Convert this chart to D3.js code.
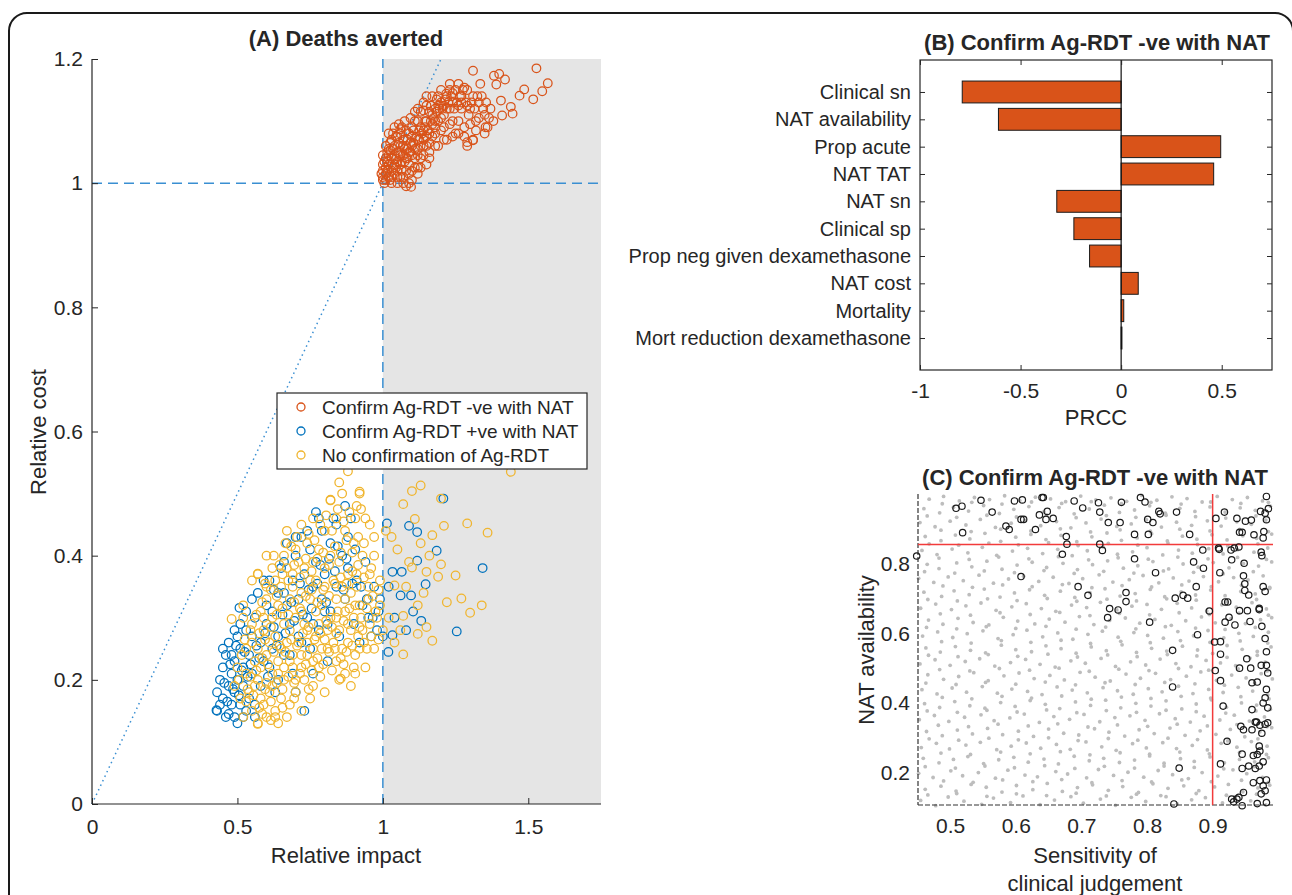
<!DOCTYPE html>
<html><head><meta charset="utf-8">
<script src="https://cdn.jsdelivr.net/npm/d3@7"></script>
<style>body{margin:0;background:#fff}text{font-family:"Liberation Sans",Arial,Helvetica,sans-serif;fill:#262626}</style>
</head><body>
<script>
// ---------- DATA ----------
// Panel A
const xDomA=[0,1.75], yDomA=[0,1.2];
const xTicksA=[0,0.5,1,1.5], yTicksA=[0,0.2,0.4,0.6,0.8,1,1.2];
const legendA=["Confirm Ag-RDT -ve with NAT","Confirm Ag-RDT +ve with NAT","No confirmation of Ag-RDT"];
const confirmNeg=[[1.01,1.005],[1.02,1.01],[1.00,1.02],[1.03,1.00],[1.04,1.015],[1.02,1.03],[1.05,1.02],[1.06,1.03],[1.03,1.04],[1.01,1.04],[1.07,1.01],[1.08,1.04],[1.05,1.05],[1.04,1.06],[1.06,1.06],[1.09,1.05],[1.10,1.06],[1.07,1.07],[1.02,1.055],[1.08,1.02],[1.11,1.04],[1.12,1.07],[1.09,1.08],[1.06,1.08],[1.13,1.09],[1.10,1.09],[1.14,1.07],[1.15,1.10],[1.12,1.10],[1.16,1.08],[1.17,1.11],[1.11,1.115],[1.18,1.12],[1.19,1.10],[1.20,1.13],[1.15,1.125],[1.21,1.11],[1.22,1.14],[1.23,1.12],[1.24,1.13],[1.25,1.15],[1.26,1.10],[1.27,1.12],[1.28,1.09],[1.25,1.08],[1.22,1.07],[1.19,1.06],[1.16,1.05],[1.13,1.04],[1.10,1.02],[1.08,0.995],[1.12,1.025],[1.15,1.06],[1.18,1.08],[1.21,1.09],[1.24,1.10],[1.27,1.14],[1.30,1.12],[1.32,1.10],[1.29,1.06],[1.31,1.07],[1.33,1.13],[1.35,1.11],[1.36,1.09],[1.34,1.14],[1.26,1.16],[1.23,1.16],[1.20,1.15],[1.17,1.14],[1.14,1.13],[1.11,1.10],[1.08,1.085],[1.05,1.075],[1.03,1.07],[1.04,1.09],[1.00,1.01],[1.01,1.025],[1.03,1.02],[1.05,1.035],[1.07,1.045],[1.09,1.03],[1.11,1.055],[1.13,1.06],[1.14,1.085],[1.17,1.095],[1.19,1.125],[1.16,1.115],[1.13,1.115],[1.10,1.075],[1.07,1.06],[1.06,1.045],[1.04,1.03],[1.06,1.01],[1.09,1.015],[1.12,1.045],[1.15,1.075],[1.18,1.10],[1.21,1.125],[1.24,1.145],[1.27,1.13],[1.29,1.15],[1.31,1.14],[1.37,1.12],[1.38,1.10],[1.35,1.08],[1.097,0.994],[1.00,1.03],[1.01,1.015],[1.02,1.045],[1.03,1.01],[1.04,1.045],[1.05,1.01],[1.00,1.005],[1.015,1.035],[1.035,1.055],[1.045,1.025],[1.055,1.065],[1.065,1.02],[1.075,1.035],[1.085,1.055],[1.095,1.065],[1.025,1.065],[1.045,1.075],[1.065,1.09],[1.085,1.07],[1.105,1.085],[1.125,1.085],[1.145,1.10],[1.165,1.125],[1.185,1.135],[1.12,1.055],[1.14,1.045],[1.16,1.065],[1.18,1.09],[1.20,1.105],[1.22,1.12],[1.10,1.045],[1.08,1.06],
[1.005,1.0],[1.015,1.02],[1.025,1.005],[1.035,1.025],[1.045,1.04],[1.055,1.05],[1.065,1.035],[1.075,1.055],[1.085,1.04],[1.095,1.05],[1.105,1.065],[1.115,1.075],[1.125,1.07],[1.135,1.08],[1.145,1.09],[1.155,1.085],[1.165,1.1],[1.175,1.105],[1.185,1.115],[1.195,1.12],[1.205,1.12],[1.215,1.135],[1.225,1.13],[1.235,1.14],[1.245,1.12],[1.255,1.13],[1.265,1.14],[1.275,1.15],[1.285,1.13],[1.295,1.11],[1.305,1.13],[1.315,1.12],[1.325,1.14],[1.345,1.12],[1.355,1.13],[1.365,1.105],[1.32,1.085],[1.30,1.095],[1.28,1.075],[1.26,1.08],[1.24,1.075],[1.23,1.095],[1.21,1.07],[1.20,1.085],[1.18,1.06],[1.17,1.075],[1.16,1.04],[1.15,1.03],[1.14,1.06],[1.13,1.025],[1.12,1.015],[1.11,1.025],[1.10,1.005],[1.09,1.0],[1.07,1.0],[1.05,1.0],[1.035,1.08],[1.055,1.095],[1.075,1.1],[1.095,1.105],[1.12,1.12],[1.15,1.14],[1.19,1.14],[1.23,1.15],[1.26,1.125],[1.29,1.125],[1.33,1.105],[1.02,1.08],[1.01,1.06],[1.00,1.045],[0.995,1.015],[1.005,1.035],[1.015,1.05],
[1.528,1.185],[1.31,1.181],[1.567,1.161],[1.486,1.151],[1.47,1.141],[1.517,1.135],[1.548,1.148],[1.382,1.173],[1.40,1.176],[1.42,1.167],[1.335,1.16],[1.39,1.159],[1.44,1.123],[1.41,1.109],[1.446,1.112],[1.406,1.133],[1.353,1.09],[1.31,1.069],[1.29,1.066],[1.218,1.144],[1.28,1.154],[1.14,1.117],[1.06,1.087],[1.026,1.053]];
const confirmPos=[[0.43,0.15],[0.43,0.18],[0.44,0.20],[0.45,0.17],[0.45,0.22],[0.46,0.24],[0.46,0.14],[0.47,0.19],[0.47,0.26],[0.48,0.16],[0.48,0.21],[0.48,0.24],[0.49,0.14],[0.49,0.18],[0.49,0.23],[0.50,0.13],[0.50,0.20],[0.50,0.27],[0.51,0.16],[0.51,0.25],[0.51,0.29],[0.52,0.19],[0.52,0.22],[0.53,0.15],[0.53,0.28],[0.54,0.17],[0.54,0.24],[0.55,0.27],[0.55,0.21],[0.56,0.30],[0.56,0.16],[0.57,0.34],[0.58,0.26],[0.58,0.19],[0.60,0.29],[0.61,0.36],[0.61,0.22],[0.62,0.31],[0.63,0.18],[0.64,0.34],[0.64,0.27],[0.65,0.38],[0.66,0.24],[0.67,0.32],[0.67,0.42],[0.68,0.29],[0.69,0.36],[0.69,0.21],[0.70,0.40],[0.71,0.33],[0.71,0.27],[0.72,0.43],[0.73,0.37],[0.73,0.15],[0.74,0.30],[0.75,0.41],[0.75,0.25],[0.76,0.35],[0.77,0.47],[0.77,0.39],[0.78,0.28],[0.79,0.44],[0.79,0.33],[0.80,0.37],[0.81,0.23],[0.82,0.42],[0.82,0.31],[0.83,0.46],[0.84,0.35],[0.85,0.27],[0.86,0.40],[0.87,0.48],[0.87,0.33],[0.88,0.38],[0.89,0.46],[0.90,0.29],[0.91,0.36],[0.92,0.26],[0.93,0.32],[0.94,0.39],[0.95,0.30],[0.96,0.27],[0.97,0.35],[0.98,0.28],[0.99,0.33],[1.0,0.27],[0.66,0.34],[0.62,0.25],[0.59,0.23],[0.70,0.18],[0.76,0.21],[0.81,0.29],
[0.455,0.195],[0.465,0.165],[0.475,0.225],[0.485,0.185],[0.495,0.255],[0.505,0.175],[0.515,0.215],[0.525,0.245],[0.535,0.205],[0.545,0.225],[0.565,0.255],[0.575,0.235],[0.595,0.275],[0.605,0.205],[0.625,0.285],[0.635,0.255],[0.655,0.305],[0.665,0.275],[0.685,0.325],[0.695,0.295],[0.715,0.355],[0.725,0.305],[0.745,0.345],[0.755,0.315],[0.775,0.355],[0.785,0.385],[0.805,0.325],[0.815,0.395],[0.835,0.375],[0.845,0.415],[0.865,0.345],[0.875,0.395],[0.895,0.355],[0.905,0.41],[0.925,0.35],[0.945,0.33],[0.965,0.30],[0.985,0.31],[0.625,0.345],[0.66,0.39],[0.70,0.43],[0.74,0.44],[0.78,0.46],[0.84,0.45],[0.88,0.43],[0.68,0.24],[0.72,0.26],[0.76,0.29],[0.80,0.31],[0.64,0.20],[0.56,0.14],[0.52,0.14],[0.47,0.145],[0.44,0.16],[0.45,0.25],[0.49,0.28],[0.53,0.31],[0.60,0.32],[0.59,0.36],[0.55,0.33],
[1.014,0.452],[1.09,0.448],[1.118,0.438],[1.208,0.492],[1.185,0.408],[1.118,0.392],[1.343,0.380],[1.065,0.374],[1.033,0.374],[1.254,0.278],[1.132,0.295],[1.104,0.310],[1.019,0.245],[1.033,0.272],[1.061,0.336],[1.097,0.336],[1.147,0.354],[1.04,0.30],[1.02,0.35],[1.08,0.28],[0.428,0.151],[0.507,0.316]];
const noConfirm=[[0.52,0.14],[0.55,0.15],[0.57,0.13],[0.60,0.14],[0.63,0.15],[0.58,0.17],[0.54,0.18],[0.61,0.18],[0.65,0.17],[0.68,0.16],[0.70,0.18],[0.66,0.20],[0.62,0.21],[0.57,0.20],[0.53,0.21],[0.56,0.23],[0.60,0.24],[0.64,0.23],[0.69,0.22],[0.73,0.20],[0.76,0.19],[0.78,0.22],[0.74,0.24],[0.71,0.26],[0.67,0.26],[0.63,0.27],[0.59,0.28],[0.55,0.26],[0.58,0.31],[0.62,0.30],[0.66,0.29],[0.70,0.30],[0.74,0.28],[0.77,0.27],[0.81,0.25],[0.84,0.23],[0.87,0.21],[0.90,0.22],[0.92,0.25],[0.88,0.26],[0.85,0.28],[0.82,0.30],[0.79,0.32],[0.75,0.33],[0.72,0.34],[0.68,0.33],[0.65,0.35],[0.69,0.37],[0.73,0.38],[0.77,0.36],[0.80,0.35],[0.84,0.33],[0.87,0.31],[0.90,0.30],[0.93,0.28],[0.96,0.27],[0.98,0.30],[0.95,0.33],[0.91,0.35],[0.88,0.37],[0.85,0.39],[0.82,0.40],[0.78,0.41],[0.74,0.42],[0.70,0.41],[0.66,0.40],[0.62,0.38],[0.60,0.35],[0.67,0.44],[0.72,0.45],[0.76,0.46],[0.80,0.44],[0.84,0.46],[0.87,0.44],[0.90,0.42],[0.93,0.40],[0.96,0.38],[0.99,0.36],[0.97,0.43],[0.94,0.46],[0.91,0.48],[0.86,0.50],[0.82,0.49],[0.88,0.536],[0.85,0.518],[0.92,0.50],[0.99,0.32],[1.0,0.28],[0.97,0.25],[0.94,0.22],[0.89,0.19],[0.85,0.20],[0.80,0.18],[0.75,0.17],[0.72,0.15],[0.67,0.14],[0.64,0.13],[0.59,0.16],[0.56,0.19],[0.51,0.17],[0.49,0.19],[0.50,0.22],[0.53,0.25],[0.57,0.25],[0.61,0.26],[0.65,0.25],[0.69,0.24],[0.72,0.22],[0.76,0.23],[0.79,0.25],[0.83,0.26],[0.86,0.25],[0.89,0.28],[0.92,0.32],[0.89,0.34],[0.86,0.35],[0.83,0.36],[0.80,0.38],[0.76,0.39],[0.72,0.31],[0.68,0.28],[0.64,0.32],[0.60,0.33],[0.58,0.22],[0.62,0.19],[0.66,0.22],[0.70,0.20],[0.74,0.26],[0.78,0.29],[0.81,0.28],[0.84,0.30],[0.87,0.33],[0.91,0.37],[0.95,0.35],[0.97,0.40],[0.75,0.36],[0.71,0.39],[0.67,0.38],[0.63,0.36],[0.77,0.31],[0.73,0.29],[0.69,0.35],[0.59,0.30],[0.55,0.29],[0.52,0.30],[0.57,0.37],[0.60,0.40],[0.55,0.36],
[0.53,0.165],[0.555,0.175],[0.575,0.155],[0.595,0.185],[0.615,0.165],[0.635,0.195],[0.655,0.185],[0.675,0.205],[0.695,0.195],[0.715,0.21],[0.735,0.225],[0.755,0.215],[0.775,0.235],[0.795,0.225],[0.815,0.245],[0.835,0.25],[0.855,0.235],[0.875,0.245],[0.895,0.255],[0.915,0.27],[0.935,0.26],[0.955,0.29],[0.975,0.31],[0.545,0.205],[0.565,0.215],[0.585,0.235],[0.605,0.225],[0.625,0.245],[0.645,0.255],[0.665,0.245],[0.685,0.265],[0.705,0.255],[0.725,0.275],[0.745,0.285],[0.765,0.265],[0.785,0.275],[0.805,0.295],[0.825,0.285],[0.845,0.31],[0.865,0.295],[0.885,0.315],[0.905,0.32],[0.925,0.3],[0.945,0.315],[0.965,0.335],[0.985,0.345],[0.575,0.275],[0.595,0.265],[0.615,0.285],[0.635,0.305],[0.655,0.315],[0.675,0.305],[0.695,0.325],[0.715,0.315],[0.735,0.335],[0.755,0.345],[0.775,0.325],[0.795,0.345],[0.815,0.335],[0.835,0.355],[0.855,0.365],[0.875,0.355],[0.895,0.375],[0.915,0.385],[0.935,0.365],[0.955,0.37],[0.615,0.345],[0.635,0.335],[0.655,0.37],[0.675,0.36],[0.695,0.385],[0.715,0.365],[0.735,0.395],[0.755,0.375],[0.775,0.395],[0.795,0.405],[0.815,0.385],[0.835,0.415],[0.855,0.405],[0.875,0.425],[0.895,0.405],[0.915,0.43],[0.935,0.42],[0.955,0.45],[0.745,0.435],[0.765,0.425],[0.785,0.45],[0.805,0.465],[0.825,0.44],[0.845,0.475],[0.865,0.455],[0.885,0.47],[0.905,0.46],[0.925,0.475],[0.705,0.43],[0.685,0.415],[0.665,0.42],[0.645,0.385],[0.625,0.4],[0.595,0.355],[0.585,0.325],[0.565,0.305],[0.545,0.28],[0.525,0.265],[0.515,0.24],[0.505,0.2],[0.535,0.185],[0.585,0.145],[0.615,0.135],[0.655,0.155],[0.695,0.17],[0.745,0.185],[0.785,0.205],[0.825,0.215],[0.865,0.225],[0.905,0.24],[0.945,0.25],[0.985,0.265],[0.6,0.195],[0.64,0.21],[0.68,0.23],[0.72,0.24],[0.76,0.25],[0.8,0.265],[0.84,0.275],[0.88,0.29],[0.92,0.285],
[1.13,0.513],[1.10,0.504],[1.44,0.535],[1.20,0.492],[0.92,0.503],[1.07,0.483],[1.11,0.459],[1.21,0.448],[1.29,0.452],[1.36,0.437],[1.17,0.433],[1.20,0.386],[1.25,0.368],[1.19,0.366],[1.15,0.374],[1.22,0.325],[1.27,0.331],[1.30,0.308],[1.34,0.32],[1.17,0.263],[1.07,0.241],[1.12,0.274],[1.15,0.285],[1.07,0.303],[1.04,0.352],[1.10,0.381],[1.03,0.43],[1.05,0.41],[1.08,0.35],[1.12,0.32],[1.14,0.34],[1.06,0.28],[1.02,0.30],[1.09,0.39],[1.13,0.42],[1.16,0.40],[1.04,0.26],[1.01,0.44],[0.57,0.371],[0.52,0.32],[0.48,0.298],[0.905,0.21],[0.855,0.202],[0.57,0.129],[0.63,0.14],[0.82,0.489]];

// Panel B
const paramsB=["Clinical sn","NAT availability","Prop acute","NAT TAT","NAT sn","Clinical sp","Prop neg given dexamethasone","NAT cost","Mortality","Mort reduction dexamethasone"];
const prccB=[-0.79,-0.61,0.495,0.46,-0.32,-0.235,-0.157,0.085,0.013,0.004];
const xDomB=[-1,0.75], xTicksB=[-1,-0.5,0,0.5];

// Panel C
const xDomC=[0.451,0.992], yDomC=[0.107,1.0];
const xTicksC=[0.5,0.6,0.7,0.8,0.9], yTicksC=[0.2,0.4,0.6,0.8];
const thresholdC={sn:0.9, avail:0.855};
const samplesC=[[.455,.12],[.478,.105],[.497,.13],[.521,.118],[.548,.109],[.566,.127],[.592,.114],[.611,.133],[.637,.108],[.659,.121],[.684,.131],[.703,.112],[.729,.124],[.752,.106],[.776,.129],[.798,.117],[.821,.134],[.846,.11],[.868,.122],[.889,.128],[.915,.113],[.934,.131],[.958,.119],[.981,.107],
[.462,.152],[.486,.161],[.509,.147],[.532,.166],[.555,.158],[.579,.144],[.601,.163],[.626,.151],[.648,.169],[.671,.146],[.694,.157],[.717,.165],[.741,.149],[.763,.16],[.787,.143],[.809,.168],[.832,.155],[.856,.162],[.879,.148],[.903,.159],[.924,.166],[.946,.145],[.969,.156],[.987,.164],
[.452,.198],[.474,.186],[.501,.205],[.519,.191],[.543,.2],[.569,.184],[.588,.207],[.614,.193],[.633,.188],[.661,.203],[.679,.196],[.708,.185],[.726,.209],[.749,.192],[.771,.201],[.795,.187],[.817,.206],[.839,.194],[.863,.183],[.884,.2],[.908,.19],[.931,.208],[.952,.197],[.976,.186],
[.459,.241],[.483,.228],[.505,.238],[.527,.246],[.551,.226],[.574,.237],[.597,.244],[.619,.23],[.643,.239],[.665,.225],[.689,.247],[.712,.234],[.734,.241],[.758,.229],[.781,.236],[.804,.248],[.826,.227],[.851,.24],[.872,.232],[.896,.245],[.918,.228],[.941,.238],[.964,.231],[.985,.243],
[.456,.272],[.479,.284],[.499,.268],[.524,.279],[.546,.287],[.571,.266],[.593,.276],[.616,.285],[.638,.27],[.662,.281],[.683,.267],[.707,.288],[.731,.274],[.753,.264],[.778,.283],[.799,.271],[.824,.286],[.845,.269],[.869,.278],[.892,.265],[.913,.284],[.937,.273],[.959,.289],[.983,.276],
[.464,.318],[.488,.306],[.511,.322],[.534,.311],[.557,.327],[.58,.309],[.604,.319],[.627,.304],[.65,.325],[.673,.313],[.696,.308],[.72,.326],[.742,.316],[.766,.305],[.788,.323],[.811,.312],[.835,.328],[.858,.307],[.881,.32],[.905,.31],[.927,.324],[.949,.303],[.972,.317],[.99,.329],
[.453,.352],[.476,.364],[.498,.347],[.522,.359],[.547,.366],[.567,.349],[.591,.357],[.613,.368],[.636,.344],[.658,.361],[.682,.353],[.704,.367],[.728,.346],[.751,.358],[.774,.363],[.797,.35],[.819,.369],[.843,.355],[.866,.345],[.887,.362],[.911,.351],[.933,.365],[.956,.348],[.979,.36],
[.461,.398],[.484,.387],[.507,.404],[.53,.392],[.553,.385],[.577,.401],[.599,.39],[.622,.407],[.645,.396],[.667,.384],[.691,.403],[.714,.393],[.737,.408],[.76,.386],[.783,.399],[.806,.391],[.829,.406],[.853,.383],[.875,.397],[.898,.409],[.921,.388],[.944,.4],[.967,.394],[.988,.382],
[.457,.438],[.48,.426],[.503,.443],[.525,.431],[.549,.447],[.572,.428],[.594,.44],[.618,.433],[.64,.424],[.663,.446],[.686,.437],[.709,.429],[.733,.444],[.755,.435],[.779,.425],[.802,.441],[.823,.432],[.848,.448],[.87,.427],[.894,.439],[.916,.43],[.939,.445],[.961,.434],[.984,.423],
[.466,.481],[.49,.468],[.513,.476],[.536,.487],[.558,.464],[.582,.478],[.605,.486],[.628,.47],[.652,.479],[.674,.466],[.698,.488],[.721,.474],[.744,.463],[.768,.483],[.79,.471],[.813,.485],[.836,.467],[.86,.477],[.882,.489],[.906,.465],[.929,.48],[.951,.472],[.974,.484],[.991,.469],
[.454,.512],[.477,.524],[.5,.508],[.523,.519],[.545,.527],[.568,.506],[.592,.516],[.615,.525],[.637,.511],[.66,.503],[.684,.521],[.706,.514],[.73,.528],[.752,.505],[.775,.518],[.798,.509],[.82,.526],[.844,.513],[.867,.504],[.89,.522],[.912,.515],[.935,.507],[.957,.529],[.98,.517],
[.463,.558],[.485,.546],[.508,.562],[.531,.551],[.554,.544],[.578,.566],[.6,.553],[.624,.547],[.646,.564],[.669,.556],[.692,.543],[.715,.561],[.738,.55],[.762,.567],[.784,.545],[.807,.557],[.83,.549],[.854,.563],[.877,.552],[.9,.542],[.922,.565],[.945,.554],[.968,.548],[.989,.561],
[.458,.592],[.481,.604],[.504,.588],[.526,.599],[.55,.607],[.573,.585],[.596,.596],[.617,.609],[.641,.59],[.664,.601],[.687,.583],[.71,.597],[.732,.606],[.756,.589],[.78,.602],[.801,.594],[.825,.586],[.847,.605],[.871,.593],[.893,.608],[.917,.587],[.94,.6],[.962,.591],[.985,.603],
[.467,.638],[.489,.626],[.512,.643],[.535,.631],[.559,.624],[.581,.646],[.603,.635],[.629,.627],[.651,.641],[.675,.632],[.697,.648],[.719,.625],[.743,.637],[.767,.644],[.789,.629],[.812,.64],[.837,.623],[.859,.636],[.883,.647],[.904,.63],[.928,.642],[.95,.628],[.973,.639],[.99,.645],
[.455,.672],[.478,.684],[.502,.668],[.524,.679],[.547,.687],[.57,.666],[.594,.676],[.616,.685],[.639,.671],[.661,.663],[.685,.681],[.708,.674],[.729,.689],[.754,.667],[.777,.678],[.8,.683],[.822,.669],[.846,.686],[.868,.673],[.891,.664],[.914,.682],[.936,.675],[.96,.688],[.982,.67],
[.46,.718],[.487,.706],[.506,.722],[.529,.711],[.552,.727],[.576,.704],[.598,.716],[.621,.725],[.644,.709],[.668,.721],[.69,.703],[.713,.717],[.736,.728],[.759,.707],[.782,.714],[.805,.726],[.827,.705],[.852,.719],[.874,.71],[.897,.724],[.919,.708],[.943,.72],[.965,.713],[.987,.729],
[.452,.758],[.475,.746],[.497,.762],[.52,.751],[.544,.767],[.566,.744],[.589,.756],[.612,.764],[.635,.749],[.657,.761],[.681,.743],[.702,.757],[.727,.768],[.748,.747],[.773,.754],[.794,.766],[.818,.745],[.84,.759],[.864,.75],[.886,.763],[.909,.748],[.932,.76],[.954,.753],[.977,.765],
[.465,.798],[.483,.786],[.51,.802],[.533,.791],[.556,.807],[.579,.784],[.602,.796],[.625,.804],[.647,.789],[.672,.801],[.694,.783],[.717,.797],[.74,.808],[.764,.787],[.786,.794],[.809,.806],[.833,.785],[.855,.799],[.878,.79],[.901,.803],[.925,.788],[.947,.8],[.97,.793],[.99,.805],
[.457,.838],[.48,.826],[.503,.842],[.527,.831],[.549,.847],[.571,.824],[.595,.836],[.618,.844],[.641,.829],[.664,.841],[.686,.823],[.709,.837],[.733,.848],[.755,.827],[.778,.834],[.8,.846],[.824,.825],[.848,.839],[.869,.83],[.894,.843],[.916,.828],[.938,.84],[.963,.833],[.984,.845],
[.462,.878],[.486,.866],[.508,.882],[.53,.871],[.553,.887],[.577,.864],[.6,.876],[.623,.884],[.646,.869],[.669,.881],[.693,.863],[.716,.877],[.739,.888],[.761,.867],[.785,.874],[.807,.886],[.831,.865],[.854,.879],[.876,.87],[.899,.883],[.922,.868],[.946,.88],[.967,.873],[.99,.885],
[.454,.918],[.477,.906],[.5,.922],[.524,.911],[.546,.927],[.569,.904],[.593,.916],[.614,.924],[.638,.909],[.662,.921],[.684,.903],[.707,.917],[.73,.928],[.754,.907],[.776,.914],[.799,.926],[.822,.905],[.845,.919],[.868,.91],[.892,.923],[.913,.908],[.937,.92],[.959,.913],[.981,.925],
[.46,.958],[.484,.946],[.505,.962],[.528,.951],[.551,.967],[.575,.944],[.597,.956],[.62,.964],[.643,.949],[.666,.961],[.689,.943],[.712,.957],[.735,.968],[.758,.947],[.781,.954],[.804,.966],[.828,.945],[.85,.959],[.873,.95],[.896,.963],[.919,.948],[.942,.96],[.965,.953],[.988,.965],
[.468,.985],[.49,.993],[.514,.98],[.537,.99],[.56,.984],[.583,.995],[.606,.981],[.63,.991],[.653,.986],[.676,.978],[.699,.994],[.722,.983],[.745,.989],[.769,.979],[.792,.996],[.815,.982],[.838,.992],[.861,.987],[.884,.977],[.907,.993],[.93,.984],[.953,.99],[.976,.98],
[.466,.136],[.51,.14],[.556,.132],[.601,.139],[.647,.134],[.692,.141],[.738,.133],[.784,.138],[.829,.131],[.875,.14],[.921,.135],[.967,.138],
[.49,.176],[.535,.172],[.58,.179],[.626,.174],[.67,.18],[.716,.171],[.762,.177],[.807,.173],[.853,.179],[.898,.174],[.944,.178],[.985,.172],
[.462,.217],[.508,.213],[.553,.219],[.598,.214],[.644,.22],[.69,.212],[.735,.218],[.781,.213],[.826,.219],[.872,.215],[.917,.211],[.963,.217],
[.486,.256],[.531,.252],[.577,.259],[.622,.254],[.668,.26],[.713,.251],[.759,.257],[.804,.253],[.85,.259],[.895,.254],[.941,.258],[.982,.252],
[.468,.297],[.513,.293],[.559,.299],[.604,.294],[.65,.3],[.695,.292],[.741,.298],[.786,.293],[.832,.299],[.877,.295],[.923,.291],[.969,.297],
[.482,.336],[.528,.332],[.573,.339],[.619,.334],[.664,.34],[.71,.331],[.755,.337],[.801,.333],[.846,.339],[.892,.334],[.937,.338],[.983,.332],
[.465,.377],[.511,.373],[.556,.379],[.602,.374],[.647,.38],[.693,.372],[.738,.378],[.784,.373],[.829,.379],[.875,.375],[.92,.371],[.966,.377],
[.488,.416],[.533,.412],[.579,.419],[.624,.414],[.67,.42],[.715,.411],[.761,.417],[.806,.413],[.852,.419],[.897,.414],[.943,.418],[.986,.412],
[.463,.457],[.509,.453],[.554,.459],[.6,.454],[.645,.46],[.691,.452],[.736,.458],[.782,.453],[.827,.459],[.873,.455],[.918,.451],[.964,.457],
[.484,.496],[.53,.492],[.575,.499],[.621,.494],[.666,.5],[.712,.491],[.757,.497],[.803,.493],[.848,.499],[.894,.494],[.939,.498],[.983,.492],
[.467,.537],[.512,.533],[.558,.539],[.603,.534],[.649,.54],[.694,.532],[.74,.538],[.785,.533],[.831,.539],[.876,.535],[.922,.531],[.968,.537],
[.487,.576],[.532,.572],[.578,.579],[.623,.574],[.669,.58],[.714,.571],[.76,.577],[.805,.573],[.851,.579],[.896,.574],[.942,.578],[.984,.572],
[.464,.617],[.51,.613],[.555,.619],[.6,.614],[.646,.62],[.692,.612],[.737,.618],[.783,.613],[.828,.619],[.874,.615],[.919,.611],[.965,.617],
[.485,.656],[.531,.652],[.576,.659],[.622,.654],[.667,.66],[.713,.651],[.758,.657],[.804,.653],[.849,.659],[.895,.654],[.94,.658],[.985,.652],
[.466,.697],[.511,.693],[.557,.699],[.602,.694],[.648,.7],[.693,.692],[.739,.698],[.784,.693],[.83,.699],[.875,.695],[.921,.691],[.967,.697],
[.489,.736],[.534,.732],[.58,.739],[.625,.734],[.671,.74],[.716,.731],[.762,.737],[.807,.733],[.853,.739],[.898,.734],[.944,.738],[.987,.732],
[.461,.777],[.507,.773],[.552,.779],[.598,.774],[.643,.78],[.689,.772],[.734,.778],[.78,.773],[.825,.779],[.871,.775],[.916,.771],[.962,.777],
[.483,.816],[.529,.812],[.574,.819],[.62,.814],[.665,.82],[.711,.811],[.756,.817],[.802,.813],[.847,.819],[.893,.814],[.938,.818],[.982,.812],
[.468,.857],[.513,.853],[.559,.859],[.604,.854],[.65,.86],[.695,.852],[.741,.858],[.786,.853],[.832,.859],[.877,.855],[.923,.851],[.969,.857],
[.486,.896],[.532,.892],[.577,.899],[.623,.894],[.668,.9],[.714,.891],[.759,.897],[.805,.893],[.85,.899],[.896,.894],[.941,.898],[.985,.892],
[.465,.937],[.51,.933],[.556,.939],[.601,.934],[.647,.94],[.692,.932],[.738,.938],[.783,.933],[.829,.939],[.874,.935],[.92,.931],[.966,.937],
[.488,.972],[.533,.976],[.579,.971],[.624,.977],[.67,.973],[.715,.978],[.761,.972],[.806,.976],[.852,.971],[.897,.977],[.943,.973],[.985,.976]];
const highlightC=[[0.509,0.959],[0.518,0.965],[0.547,0.982],[0.564,0.948],[0.519,0.889],[0.598,0.98],[0.61,0.983],[0.64,0.99],[0.642,0.99],[0.608,0.927],[0.612,0.927],[0.585,0.908],[0.590,0.898],[0.630,0.898],[0.636,0.94],[0.648,0.95],[0.646,0.927],[0.657,0.93],[0.677,0.878],[0.678,0.856],[0.671,0.827],[0.689,0.98],[0.702,0.96],[0.726,0.975],[0.728,0.948],[0.728,0.856],[0.732,0.838],[0.741,0.918],[0.759,0.918],[0.761,0.976],[0.79,0.99],[0.797,0.977],[0.781,0.884],[0.802,0.884],[0.801,0.927],[0.809,0.918],[0.818,0.95],[0.82,0.943],[0.845,0.948],[0.608,0.763],[0.695,0.734],[0.710,0.709],[0.768,0.717],[0.768,0.691],[0.743,0.671],[0.756,0.667],[0.740,0.645],[0.781,0.814],[0.813,0.774],[0.804,0.632],[0.843,0.701],[0.855,0.709],[0.862,0.701],[0.875,0.734],[0.871,0.805],[0.886,0.787],[0.885,0.839],[0.877,0.596],[0.895,0.664],[0.839,0.551],[0.839,0.446],[0.849,0.213],[0.841,0.11],[0.865,0.884],[0.449,0.822],
[0.905,0.93],[0.909,0.845],[0.91,0.841],[0.918,0.948],[0.911,0.774],[0.919,0.632],[0.903,0.575],[0.912,0.576],[0.912,0.54],[0.904,0.493],[0.912,0.464],[0.916,0.391],[0.922,0.29],[0.912,0.225],[0.919,0.69],[0.923,0.69],[0.925,0.646],[0.934,0.624],[0.928,0.839],[0.929,0.811],[0.933,0.845],[0.94,0.848],[0.937,0.93],[0.95,0.922],[0.959,0.925],[0.941,0.89],[0.945,0.89],[0.963,0.883],[0.973,0.95],[0.98,0.945],[0.982,0.993],[0.985,0.958],[0.982,0.926],[0.977,0.874],[0.978,0.892],[0.974,0.833],[0.975,0.823],[0.98,0.72],[0.977,0.734],[0.948,0.801],[0.947,0.765],[0.949,0.742],[0.949,0.723],[0.955,0.71],[0.941,0.665],[0.953,0.665],[0.957,0.634],[0.971,0.672],[0.971,0.668],[0.975,0.62],[0.98,0.585],[0.982,0.547],[0.982,0.508],[0.984,0.486],[0.974,0.508],[0.952,0.527],[0.941,0.5],[0.958,0.5],[0.96,0.458],[0.968,0.46],[0.982,0.439],[0.98,0.415],[0.984,0.386],[0.977,0.4],[0.96,0.381],[0.943,0.333],[0.947,0.323],[0.96,0.323],[0.965,0.345],[0.967,0.345],[0.972,0.336],[0.975,0.313],[0.98,0.339],[0.984,0.343],[0.971,0.276],[0.972,0.262],[0.968,0.252],[0.962,0.249],[0.977,0.231],[0.971,0.219],[0.965,0.212],[0.955,0.219],[0.945,0.212],[0.962,0.171],[0.972,0.177],[0.982,0.179],[0.977,0.162],[0.98,0.148],[0.974,0.139],[0.982,0.114],[0.968,0.111],[0.945,0.105],[0.929,0.124],[0.937,0.124],[0.94,0.129],[0.947,0.143],[0.945,0.253],[0.932,0.116]];

// ---------- DRAW ----------
const W=1292,H=895, ink="#262626", FONT='"Liberation Sans",Arial,Helvetica,sans-serif';
const svg=d3.select("body").append("svg").attr("width",W).attr("height",H);
svg.append("rect").attr("width",W).attr("height",H).attr("fill","#fff");
svg.append("rect").attr("x",9).attr("y",13).attr("width",1284).attr("height",1000).attr("rx",18)
  .attr("fill","none").attr("stroke","#1a1a1a").attr("stroke-width",2);

function styleAxis(g,size){
  g.select(".domain").remove();
  g.selectAll(".tick line").attr("stroke",ink).attr("stroke-width",1);
  g.selectAll(".tick text").attr("font-size",size).attr("font-family",FONT).attr("fill",ink);
}

// ---- Panel A ----
const xA=d3.scaleLinear().domain(xDomA).range([92,601]);
const yA=d3.scaleLinear().domain(yDomA).range([804,59]);
const A=svg.append("g");
A.append("rect").attr("x",xA(1)).attr("y",yA(1.2)).attr("width",xA(1.75)-xA(1)).attr("height",yA(0)-yA(1.2)).attr("fill","#e5e5e5");
const lineBlue="#3a8fd2";
A.append("line").attr("x1",xA(1)).attr("x2",xA(1)).attr("y1",yA(0)).attr("y2",yA(1.2))
  .attr("stroke",lineBlue).attr("stroke-width",1.5).attr("stroke-dasharray","10,6");
A.append("line").attr("x1",xA(0)).attr("x2",xA(1.75)).attr("y1",yA(1)).attr("y2",yA(1))
  .attr("stroke",lineBlue).attr("stroke-width",1.5).attr("stroke-dasharray","10,6");
A.append("line").attr("x1",xA(0)).attr("y1",yA(0)).attr("x2",xA(1.2)).attr("y2",yA(1.2))
  .attr("stroke",lineBlue).attr("stroke-width",1.5).attr("stroke-dasharray","1.5,3.5");
const seriesA=[{d:confirmNeg,c:"#D95319"},{d:confirmPos,c:"#0072BD"},{d:noConfirm,c:"#F0B52E"}];
seriesA.forEach(s=>{
  A.append("g").selectAll("circle").data(s.d).join("circle")
    .attr("cx",d=>xA(d[0])).attr("cy",d=>yA(d[1])).attr("r",4.3)
    .attr("fill","none").attr("stroke",s.c).attr("stroke-width",1.25);
});
// axes
A.append("line").attr("x1",xA(0)).attr("x2",xA(0)).attr("y1",yA(0)).attr("y2",yA(1.2)).attr("stroke",ink).attr("stroke-width",1.2);
A.append("line").attr("x1",xA(0)).attr("x2",xA(1.75)).attr("y1",yA(0)).attr("y2",yA(0)).attr("stroke",ink).attr("stroke-width",1.2);
const gyA=A.append("g").attr("transform",`translate(${xA(0)},0)`).call(d3.axisLeft(yA).tickValues(yTicksA).tickSize(-6).tickPadding(9).tickFormat(d=>String(d)));
styleAxis(gyA,21);
const gxA=A.append("g").attr("transform",`translate(0,${yA(0)})`).call(d3.axisBottom(xA).tickValues(xTicksA).tickSize(-6).tickPadding(15).tickFormat(d=>String(d)));
styleAxis(gxA,21);
A.append("text").attr("x",346).attr("y",38).attr("dy","0.35em").attr("text-anchor","middle").attr("font-size",22).attr("font-weight","bold").attr("fill","#111").text("(A) Deaths averted");
A.append("text").attr("x",346).attr("y",855).attr("dy","0.35em").attr("text-anchor","middle").attr("font-size",22).text("Relative impact");
A.append("text").attr("transform","translate(38,432) rotate(-90)").attr("dy","0.35em").attr("text-anchor","middle").attr("font-size",22).text("Relative cost");
// legend
const L=A.append("g");
L.append("rect").attr("x",277).attr("y",393).attr("width",310).attr("height",76).attr("fill","#fff").attr("stroke",ink).attr("stroke-width",1.2);
legendA.forEach((t,i)=>{
  const y=407+i*24;
  L.append("circle").attr("cx",301).attr("cy",y).attr("r",4).attr("fill","none").attr("stroke",seriesA[i].c).attr("stroke-width",1.3);
  L.append("text").attr("x",322).attr("y",y).attr("dy","0.35em").attr("font-size",19).text(t);
});

// ---- Panel B ----
const xB=d3.scaleLinear().domain(xDomB).range([920,1272]);
const yB=d3.scaleLinear().domain([-0.17,11.17]).range([60,370]);
const B=svg.append("g");
const bh=(yB(1)-yB(0))*0.8;
B.selectAll("rect.bar").data(prccB).join("rect").attr("class","bar")
  .attr("x",d=>xB(Math.min(0,d))).attr("width",d=>Math.abs(xB(d)-xB(0)))
  .attr("y",(d,i)=>yB(i+1)-bh/2).attr("height",bh)
  .attr("fill","#D95319").attr("stroke","#1a1a1a").attr("stroke-width",1);
B.append("line").attr("x1",xB(0)).attr("x2",xB(0)).attr("y1",yB.range()[0]).attr("y2",yB.range()[1]).attr("stroke","#111").attr("stroke-width",1.2);
B.append("rect").attr("x",920).attr("y",60).attr("width",352).attr("height",310).attr("fill","none").attr("stroke",ink).attr("stroke-width",1.2);
const gxB=B.append("g").attr("transform","translate(0,370)").call(d3.axisBottom(xB).tickValues(xTicksB).tickSize(-5).tickPadding(13).tickFormat(d=>String(d)));
styleAxis(gxB,21);
const gxBt=B.append("g").attr("transform","translate(0,60)").call(d3.axisTop(xB).tickValues(xTicksB).tickSize(-5).tickFormat(""));
styleAxis(gxBt,21);
const catIdx=paramsB.map((p,i)=>i+1);
const gyB=B.append("g").attr("transform","translate(920,0)").call(d3.axisLeft(yB).tickValues(catIdx).tickSize(-5).tickPadding(9).tickFormat((d)=>paramsB[d-1]));
styleAxis(gyB,20);
const gyBr=B.append("g").attr("transform","translate(1272,0)").call(d3.axisRight(yB).tickValues(catIdx).tickSize(-5).tickFormat(""));
styleAxis(gyBr,20);
B.append("text").attr("x",1097).attr("y",42).attr("dy","0.35em").attr("text-anchor","middle").attr("font-size",22).attr("font-weight","bold").attr("fill","#111").text("(B) Confirm Ag-RDT -ve with NAT");
B.append("text").attr("x",1096).attr("y",417).attr("dy","0.35em").attr("text-anchor","middle").attr("font-size",22).text("PRCC");

// ---- Panel C ----
const xC=d3.scaleLinear().domain(xDomC).range([918,1273]);
const yC=d3.scaleLinear().domain(yDomC).range([805,494]);
const C=svg.append("g");
C.append("g").selectAll("circle").data(samplesC).join("circle")
  .attr("cx",d=>xC(d[0])).attr("cy",d=>yC(d[1])).attr("r",1.9).attr("fill","#bdbdbd");
C.append("line").attr("x1",918).attr("x2",918).attr("y1",494).attr("y2",805).attr("stroke","#333").attr("stroke-width",1.2).attr("stroke-dasharray","5,2");
C.append("line").attr("x1",918).attr("x2",1273).attr("y1",805).attr("y2",805).attr("stroke","#333").attr("stroke-width",1.2).attr("stroke-dasharray","5,2");
C.append("line").attr("x1",xC(thresholdC.sn)).attr("x2",xC(thresholdC.sn)).attr("y1",494).attr("y2",805).attr("stroke","#f23b3b").attr("stroke-width",1.5);
C.append("line").attr("x1",918).attr("x2",1273).attr("y1",yC(thresholdC.avail)).attr("y2",yC(thresholdC.avail)).attr("stroke","#f23b3b").attr("stroke-width",1.5);
C.append("g").selectAll("circle").data(highlightC).join("circle")
  .attr("cx",d=>xC(d[0])).attr("cy",d=>yC(d[1])).attr("r",3.2).attr("fill","none").attr("stroke","#1a1a1a").attr("stroke-width",1.2);
const gxC=C.append("g").attr("transform","translate(0,805)").call(d3.axisBottom(xC).tickValues(xTicksC).tickSize(0).tickPadding(13).tickFormat(d=>String(d)));
styleAxis(gxC,21);
const gyC=C.append("g").attr("transform","translate(918,0)").call(d3.axisLeft(yC).tickValues(yTicksC).tickSize(0).tickPadding(8).tickFormat(d=>String(d)));
styleAxis(gyC,21);
C.append("text").attr("x",1095).attr("y",477).attr("dy","0.35em").attr("text-anchor","middle").attr("font-size",22).attr("font-weight","bold").attr("fill","#111").text("(C) Confirm Ag-RDT -ve with NAT");
C.append("text").attr("x",1095).attr("y",855).attr("dy","0.35em").attr("text-anchor","middle").attr("font-size",22).text("Sensitivity of");
C.append("text").attr("x",1095).attr("y",883).attr("dy","0.35em").attr("text-anchor","middle").attr("font-size",22).text("clinical judgement");
C.append("text").attr("transform","translate(866,650) rotate(-90)").attr("dy","0.35em").attr("text-anchor","middle").attr("font-size",22).text("NAT availability");
</script>
</body></html>
